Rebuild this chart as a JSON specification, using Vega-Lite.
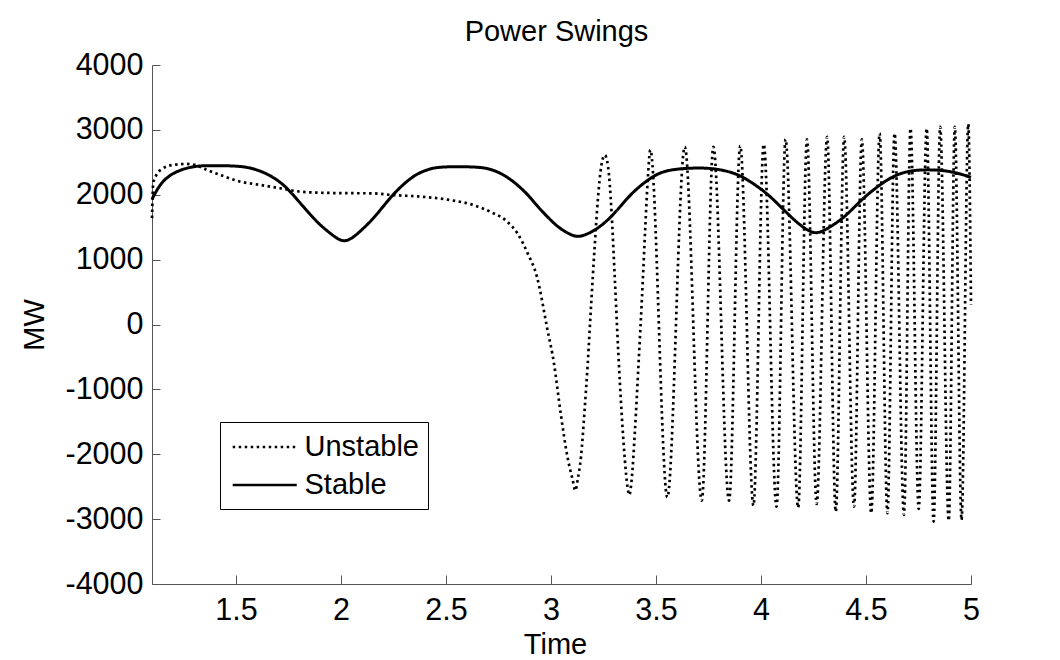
{
  "$schema": "https://vega.github.io/schema/vega-lite/v6.json",
  "width": 819,
  "height": 519,
  "autosize": "none",
  "padding": {"left": 152, "top": 65, "right": 89, "bottom": 76},
  "background": "white",
  "title": {"text": "Power Swings", "frame": "group", "anchor": "middle", "baseline": "alphabetic", "offset": 17, "dx": -5, "dy": 37, "fontSize": 29, "font": "Liberation Sans", "fontWeight": "normal", "color": "black"},
  "data": {"values": [
    {"t":1.100,"v":1640,"series":"Unstable"},
    {"t":1.106,"v":2180,"series":"Unstable"},
    {"t":1.120,"v":2300,"series":"Unstable"},
    {"t":1.150,"v":2400,"series":"Unstable"},
    {"t":1.200,"v":2460,"series":"Unstable"},
    {"t":1.265,"v":2475,"series":"Unstable"},
    {"t":1.305,"v":2460,"series":"Unstable"},
    {"t":1.361,"v":2383,"series":"Unstable"},
    {"t":1.424,"v":2306,"series":"Unstable"},
    {"t":1.519,"v":2203,"series":"Unstable"},
    {"t":1.615,"v":2152,"series":"Unstable"},
    {"t":1.710,"v":2100,"series":"Unstable"},
    {"t":1.800,"v":2050,"series":"Unstable"},
    {"t":1.906,"v":2031,"series":"Unstable"},
    {"t":2.000,"v":2025,"series":"Unstable"},
    {"t":2.148,"v":2022,"series":"Unstable"},
    {"t":2.244,"v":1996,"series":"Unstable"},
    {"t":2.389,"v":1969,"series":"Unstable"},
    {"t":2.518,"v":1919,"series":"Unstable"},
    {"t":2.631,"v":1841,"series":"Unstable"},
    {"t":2.711,"v":1738,"series":"Unstable"},
    {"t":2.792,"v":1584,"series":"Unstable"},
    {"t":2.840,"v":1405,"series":"Unstable"},
    {"t":2.889,"v":1097,"series":"Unstable"},
    {"t":2.933,"v":737,"series":"Unstable"},
    {"t":2.982,"v":-60,"series":"Unstable"},
    {"t":3.014,"v":-596,"series":"Unstable"},
    {"t":3.046,"v":-1366,"series":"Unstable"},
    {"t":3.078,"v":-2034,"series":"Unstable"},
    {"t":3.103,"v":-2393,"series":"Unstable"},
    {"t":3.116,"v":-2560,"series":"Unstable"},
    {"t":3.127,"v":-2393,"series":"Unstable"},
    {"t":3.143,"v":-2034,"series":"Unstable"},
    {"t":3.159,"v":-1366,"series":"Unstable"},
    {"t":3.175,"v":-596,"series":"Unstable"},
    {"t":3.191,"v":300,"series":"Unstable"},
    {"t":3.207,"v":1150,"series":"Unstable"},
    {"t":3.223,"v":1920,"series":"Unstable"},
    {"t":3.239,"v":2434,"series":"Unstable"},
    {"t":3.256,"v":2612,"series":"Unstable"},
    {"t":3.272,"v":2430,"series":"Unstable"},
    {"t":3.288,"v":1750,"series":"Unstable"},
    {"t":3.304,"v":700,"series":"Unstable"},
    {"t":3.320,"v":-400,"series":"Unstable"},
    {"t":3.336,"v":-1350,"series":"Unstable"},
    {"t":3.352,"v":-2100,"series":"Unstable"},
    {"t":3.364,"v":-2500,"series":"Unstable"},
    {"t":3.373,"v":-2627,"series":"Unstable"},
    {"t":3.384,"v":-2393,"series":"Unstable"},
    {"t":3.400,"v":-1623,"series":"Unstable"},
    {"t":3.417,"v":-596,"series":"Unstable"},
    {"t":3.433,"v":400,"series":"Unstable"},
    {"t":3.449,"v":1500,"series":"Unstable"},
    {"t":3.461,"v":2250,"series":"Unstable"},
    {"t":3.473,"v":2690,"series":"Unstable"},
    {"t":3.554,"v":-2663,"series":"Unstable"},
    {"t":3.637,"v":2740,"series":"Unstable"},
    {"t":3.718,"v":-2715,"series":"Unstable"},
    {"t":3.773,"v":2740,"series":"Unstable"},
    {"t":3.848,"v":-2715,"series":"Unstable"},
    {"t":3.901,"v":2755,"series":"Unstable"},
    {"t":3.964,"v":-2792,"series":"Unstable"},
    {"t":4.013,"v":2777,"series":"Unstable"},
    {"t":4.074,"v":-2808,"series":"Unstable"},
    {"t":4.117,"v":2854,"series":"Unstable"},
    {"t":4.177,"v":-2823,"series":"Unstable"},
    {"t":4.219,"v":2854,"series":"Unstable"},
    {"t":4.265,"v":-2766,"series":"Unstable"},
    {"t":4.315,"v":2894,"series":"Unstable"},
    {"t":4.356,"v":-2885,"series":"Unstable"},
    {"t":4.396,"v":2894,"series":"Unstable"},
    {"t":4.443,"v":-2808,"series":"Unstable"},
    {"t":4.480,"v":2854,"series":"Unstable"},
    {"t":4.525,"v":-2909,"series":"Unstable"},
    {"t":4.565,"v":2946,"series":"Unstable"},
    {"t":4.602,"v":-2909,"series":"Unstable"},
    {"t":4.636,"v":2946,"series":"Unstable"},
    {"t":4.681,"v":-2936,"series":"Unstable"},
    {"t":4.712,"v":3023,"series":"Unstable"},
    {"t":4.751,"v":-2843,"series":"Unstable"},
    {"t":4.789,"v":3023,"series":"Unstable"},
    {"t":4.822,"v":-3039,"series":"Unstable"},
    {"t":4.853,"v":3048,"series":"Unstable"},
    {"t":4.894,"v":-3023,"series":"Unstable"},
    {"t":4.923,"v":3048,"series":"Unstable"},
    {"t":4.955,"v":-3013,"series":"Unstable"},
    {"t":4.987,"v":3090,"series":"Unstable"},
    {"t":5.000,"v":300,"series":"Unstable"},
    {"t":1.100,"v":1930,"series":"Stable"},
    {"t":1.135,"v":2150,"series":"Stable"},
    {"t":1.181,"v":2300,"series":"Stable"},
    {"t":1.246,"v":2400,"series":"Stable"},
    {"t":1.310,"v":2440,"series":"Stable"},
    {"t":1.342,"v":2449,"series":"Stable"},
    {"t":1.503,"v":2449,"series":"Stable"},
    {"t":1.584,"v":2409,"series":"Stable"},
    {"t":1.665,"v":2300,"series":"Stable"},
    {"t":1.729,"v":2152,"series":"Stable"},
    {"t":1.777,"v":1980,"series":"Stable"},
    {"t":1.825,"v":1800,"series":"Stable"},
    {"t":1.890,"v":1561,"series":"Stable"},
    {"t":1.954,"v":1390,"series":"Stable"},
    {"t":2.007,"v":1265,"series":"Stable"},
    {"t":2.051,"v":1320,"series":"Stable"},
    {"t":2.099,"v":1458,"series":"Stable"},
    {"t":2.148,"v":1612,"series":"Stable"},
    {"t":2.196,"v":1800,"series":"Stable"},
    {"t":2.244,"v":1990,"series":"Stable"},
    {"t":2.293,"v":2152,"series":"Stable"},
    {"t":2.357,"v":2320,"series":"Stable"},
    {"t":2.421,"v":2398,"series":"Stable"},
    {"t":2.470,"v":2434,"series":"Stable"},
    {"t":2.663,"v":2434,"series":"Stable"},
    {"t":2.728,"v":2382,"series":"Stable"},
    {"t":2.792,"v":2279,"series":"Stable"},
    {"t":2.856,"v":2110,"series":"Stable"},
    {"t":2.901,"v":1960,"series":"Stable"},
    {"t":2.933,"v":1830,"series":"Stable"},
    {"t":2.982,"v":1663,"series":"Stable"},
    {"t":3.030,"v":1509,"series":"Stable"},
    {"t":3.078,"v":1407,"series":"Stable"},
    {"t":3.130,"v":1333,"series":"Stable"},
    {"t":3.191,"v":1420,"series":"Stable"},
    {"t":3.239,"v":1520,"series":"Stable"},
    {"t":3.288,"v":1663,"series":"Stable"},
    {"t":3.336,"v":1840,"series":"Stable"},
    {"t":3.384,"v":2023,"series":"Stable"},
    {"t":3.449,"v":2202,"series":"Stable"},
    {"t":3.497,"v":2305,"series":"Stable"},
    {"t":3.545,"v":2371,"series":"Stable"},
    {"t":3.626,"v":2408,"series":"Stable"},
    {"t":3.739,"v":2417,"series":"Stable"},
    {"t":3.819,"v":2382,"series":"Stable"},
    {"t":3.884,"v":2320,"series":"Stable"},
    {"t":3.932,"v":2240,"series":"Stable"},
    {"t":3.996,"v":2100,"series":"Stable"},
    {"t":4.045,"v":1971,"series":"Stable"},
    {"t":4.093,"v":1817,"series":"Stable"},
    {"t":4.141,"v":1663,"series":"Stable"},
    {"t":4.190,"v":1520,"series":"Stable"},
    {"t":4.254,"v":1385,"series":"Stable"},
    {"t":4.302,"v":1450,"series":"Stable"},
    {"t":4.350,"v":1545,"series":"Stable"},
    {"t":4.399,"v":1663,"series":"Stable"},
    {"t":4.447,"v":1817,"series":"Stable"},
    {"t":4.495,"v":1971,"series":"Stable"},
    {"t":4.560,"v":2140,"series":"Stable"},
    {"t":4.624,"v":2279,"series":"Stable"},
    {"t":4.688,"v":2356,"series":"Stable"},
    {"t":4.753,"v":2385,"series":"Stable"},
    {"t":4.834,"v":2385,"series":"Stable"},
    {"t":4.914,"v":2356,"series":"Stable"},
    {"t":5.000,"v":2270,"series":"Stable"}
  ]},
  "encoding": {
    "x": {"field": "t", "type": "quantitative",
      "scale": {"domain": [1.1, 5], "nice": false, "zero": false},
      "axis": {"values": [1.5, 2, 2.5, 3, 3.5, 4, 4.5, 5], "format": "~g", "title": "Time", "grid": false,
        "tickSize": -9, "labelPadding": 20, "labelFlush": false, "labelOverlap": false,
        "domainColor": "#555555", "tickColor": "#555555", "domainWidth": 1, "tickWidth": 1,
        "labelFontSize": 30.5, "labelFont": "Liberation Sans", "labelColor": "black",
        "titleFontSize": 29, "titleFont": "Liberation Sans", "titleFontWeight": "normal", "titleColor": "black",
        "titleX": 403, "titleY": 69, "titleBaseline": "alphabetic", "titleAlign": "center"}},
    "y": {"field": "v", "type": "quantitative",
      "scale": {"domain": [-4000, 4000], "nice": false, "zero": false},
      "axis": {"values": [-4000, -3000, -2000, -1000, 0, 1000, 2000, 3000, 4000], "labelExpr": "datum.value + ''", "title": "MW", "grid": false,
        "tickSize": -8, "labelPadding": 17, "labelOverlap": false, "labelFlush": false,
        "domainColor": "#555555", "tickColor": "#555555", "domainWidth": 1, "tickWidth": 1,
        "labelFontSize": 30.5, "labelFont": "Liberation Sans", "labelColor": "black",
        "titleFontSize": 29, "titleFont": "Liberation Sans", "titleFontWeight": "normal", "titleColor": "black",
        "titleX": -109, "titleY": 259.5, "titleBaseline": "alphabetic", "titleAlign": "center", "titleAngle": -90}},
    "color": {"field": "series", "type": "nominal",
      "scale": {"domain": ["Unstable", "Stable"], "range": ["black", "black"]},
      "legend": {"orient": "none", "legendX": 68, "legendY": 357, "title": null, "symbolType": "M-0.82,0H3.45", "symbolSize": 900, "symbolStrokeWidth": 2.5, "labelFontSize": 29, "labelFont": "Liberation Sans", "labelColor": "black", "labelOffset": 43, "padding": 8.5, "rowPadding": 6, "strokeColor": "black", "fillColor": "white", "cornerRadius": 0}},
    "strokeDash": {"field": "series", "type": "nominal",
      "scale": {"domain": ["Unstable", "Stable"], "range": [[2.5, 3.5], [1, 0]]},
      "legend": {"orient": "none", "legendX": 68, "legendY": 357, "title": null, "symbolType": "M-0.82,0H3.45", "symbolSize": 900, "symbolStrokeWidth": 2.5, "labelFontSize": 29, "labelFont": "Liberation Sans", "labelColor": "black", "labelOffset": 43, "padding": 8.5, "rowPadding": 6, "strokeColor": "black", "fillColor": "white", "cornerRadius": 0}}
  },
  "layer": [
    {"transform": [{"filter": "datum.series == 'Unstable'"}],
     "mark": {"type": "line", "interpolate": "monotone", "strokeWidth": 2.7, "strokeCap": "butt", "clip": false}},
    {"transform": [{"filter": "datum.series == 'Stable'"}],
     "mark": {"type": "line", "interpolate": "basis", "strokeWidth": 3, "strokeCap": "butt", "clip": false}}
  ],
  "config": {"view": {"stroke": null}}
}
